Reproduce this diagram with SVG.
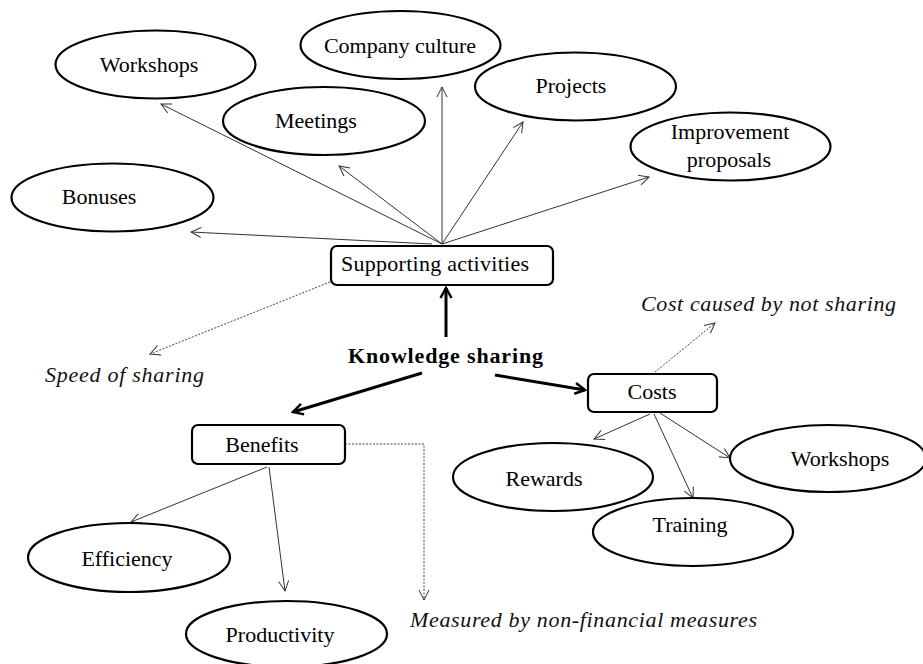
<svg xmlns="http://www.w3.org/2000/svg" width="923" height="664" viewBox="0 0 923 664">
<defs>
<marker id="thin" viewBox="0 0 12 12" refX="11" refY="6" markerWidth="12" markerHeight="12" markerUnits="userSpaceOnUse" orient="auto">
<path d="M1,1 L11,6 L1,11" fill="none" stroke="#333" stroke-width="1"/>
</marker>
<marker id="thick" viewBox="0 0 14 14" refX="12" refY="7" markerWidth="14" markerHeight="14" markerUnits="userSpaceOnUse" orient="auto">
<path d="M2,1.5 L12,7 L2,12.5" fill="none" stroke="#000" stroke-width="2.5"/>
</marker>
</defs>
<style>
.ell{fill:#fff;stroke:#000;stroke-width:2.2}
.box{fill:#fff;stroke:#000;stroke-width:2.2}
text{font-family:'Liberation Serif','Times New Roman',Times,'Noto Serif','DejaVu Serif',FreeSerif,Tinos,serif;font-size:22px;fill:#000}
.t{text-anchor:middle}
.it{font-style:italic;fill:#111}
.b{font-weight:bold}
.c{fill:none;stroke:#333;stroke-width:1;marker-end:url(#thin)}
.d{fill:none;stroke:#444;stroke-width:1;stroke-dasharray:2,1.5;marker-end:url(#thin)}
.k{fill:none;stroke:#000;stroke-width:3;marker-end:url(#thick)}
</style>
<rect width="923" height="664" fill="#fff"/>
<g id="connectors">
<line class="c" x1="442" y1="244" x2="161" y2="104"/>
<line class="c" x1="442" y1="244" x2="339" y2="166"/>
<line class="c" x1="442" y1="244" x2="442" y2="87"/>
<line class="c" x1="442" y1="244" x2="523" y2="122"/>
<line class="c" x1="442" y1="244" x2="649" y2="177"/>
<line class="c" x1="432" y1="244" x2="191" y2="232"/>
<line class="d" x1="330" y1="282" x2="150" y2="354"/>
<line class="k" x1="446" y1="337" x2="446" y2="288"/>
<line class="k" x1="422" y1="373" x2="293" y2="412"/>
<line class="k" x1="495" y1="375" x2="585" y2="390"/>
<polyline class="d" points="345,444 424,444 424,600"/>
<line class="c" x1="267" y1="467" x2="131" y2="522"/>
<line class="c" x1="269" y1="467" x2="285" y2="591"/>
<line class="d" x1="655" y1="372" x2="715" y2="323"/>
<line class="c" x1="650" y1="414" x2="594" y2="439"/>
<line class="c" x1="654" y1="414" x2="693" y2="498"/>
<line class="c" x1="660" y1="413" x2="730" y2="458"/>
</g>
<g id="workshops-top"><ellipse class="ell" cx="155.5" cy="64.5" rx="100" ry="34"/><text class="t" x="149" y="72">Workshops</text></g>
<g id="company-culture"><ellipse class="ell" cx="400.5" cy="45" rx="100" ry="34"/><text class="t" x="400" y="53">Company culture</text></g>
<g id="meetings"><ellipse class="ell" cx="324" cy="121" rx="101" ry="34"/><text class="t" x="316" y="128">Meetings</text></g>
<g id="bonuses"><ellipse class="ell" cx="112.5" cy="197.5" rx="101" ry="34"/><text class="t" x="99" y="204">Bonuses</text></g>
<g id="projects"><ellipse class="ell" cx="575.5" cy="86.5" rx="100.5" ry="34"/><text class="t" x="571" y="93">Projects</text></g>
<g id="improvement"><ellipse class="ell" cx="730.5" cy="146.5" rx="100" ry="34"/><text class="t" x="730" y="139">Improvement</text><text class="t" x="729" y="167">proposals</text></g>
<g id="supporting"><rect class="box" x="331" y="246" width="222" height="39" rx="6"/><text class="t" x="435" y="271" textLength="188" lengthAdjust="spacing">Supporting activities</text></g>
<g id="speed"><text class="it" x="45" y="382" textLength="159" lengthAdjust="spacing">Speed of sharing</text></g>
<g id="knowledge"><text class="b" x="348" y="363" textLength="195" lengthAdjust="spacing">Knowledge sharing</text></g>
<g id="benefits"><rect class="box" x="192" y="425" width="153" height="39" rx="6"/><text class="t" x="262" y="452">Benefits</text></g>
<g id="costs"><rect class="box" x="588" y="374" width="129" height="38" rx="6"/><text class="t" x="652" y="399">Costs</text></g>
<g id="cost-caused"><text class="it" x="641" y="311" textLength="255" lengthAdjust="spacing">Cost caused by not sharing</text></g>
<g id="efficiency"><ellipse class="ell" cx="129" cy="557.5" rx="101" ry="34.5"/><text class="t" x="127" y="566">Efficiency</text></g>
<g id="productivity"><ellipse class="ell" cx="286.5" cy="634" rx="100.5" ry="33"/><text class="t" x="280" y="642">Productivity</text></g>
<g id="measured"><text class="it" x="410" y="627" textLength="347" lengthAdjust="spacing">Measured by non-financial measures</text></g>
<g id="rewards"><ellipse class="ell" cx="553" cy="477" rx="100" ry="34"/><text class="t" x="544" y="486">Rewards</text></g>
<g id="training"><ellipse class="ell" cx="693" cy="532" rx="100" ry="34"/><text class="t" x="690" y="532">Training</text></g>
<g id="workshops-right"><ellipse class="ell" cx="828" cy="458.5" rx="98" ry="33.5"/><text class="t" x="840" y="466">Workshops</text></g>
</svg>
